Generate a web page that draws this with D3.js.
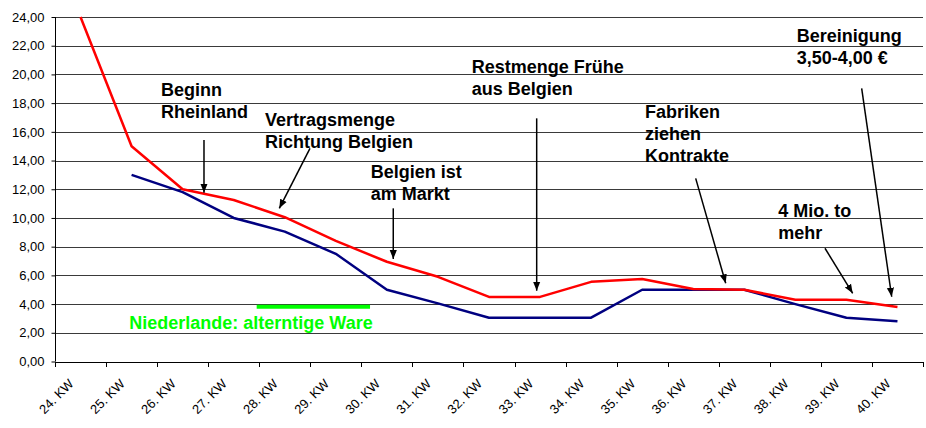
<!DOCTYPE html>
<html>
<head>
<meta charset="utf-8">
<script src="https://cdn.jsdelivr.net/npm/d3@7"></script>
<style>
  html, body { margin: 0; padding: 0; background: #fff; }
  svg { display: block; font-family: "Liberation Sans", Arial, sans-serif; }
</style>
</head>
<body>
<svg id="chart" width="926" height="428"></svg>
<script>
// ---- data ----
const categories = ["24. KW","25. KW","26. KW","27. KW","28. KW","29. KW","30. KW","31. KW","32. KW",
                    "33. KW","34. KW","35. KW","36. KW","37. KW","38. KW","39. KW","40. KW"];
const redValues  = [24.0, 15.0, 12.0, 11.25, 10.05, 8.4, 6.95, 5.9, 4.5, 4.5, 5.55, 5.75, 5.05, 5.0, 4.3, 4.3, 3.8];
const blueValues = [null, 13.0, 11.8, 10.0, 9.05, 7.5, 5.0, 4.05, 3.05, 3.05, 3.05, 5.0, 5.0, 5.0, 4.0, 3.05, 2.8];
const yTicks = [0, 2, 4, 6, 8, 10, 12, 14, 16, 18, 20, 22, 24];
// green reference segment: [from category index, to category index, value]
const greenSegment = [3.45, 5.67, 3.82];
const greenLabel = "Niederlande: alterntige Ware";
// annotations: text lines, anchor (category index, value), arrow from -> to (category index, value)
const annotationTexts = [
  ["Beginn", "Rheinland"],
  ["Vertragsmenge", "Richtung Belgien"],
  ["Belgien ist", "am Markt"],
  ["Restmenge Frühe", "aus Belgien"],
  ["Fabriken", "ziehen", "Kontrakte"],
  ["Bereinigung", "3,50-4,00 €"],
  ["4 Mio. to", "mehr"]
];
const annotationAnchors = [[1.576, 18.53],[3.613, 16.40],[5.683, 12.78],[7.661, 20.12],[11.055, 16.94],[14.026, 22.28],[13.666, 10.09]];
const arrowSegments = [
  [[2.418, 15.43],[2.418, 11.76]],
  [[4.494, 14.85],[3.893, 10.67]],
  [[6.125, 10.67],[6.125, 7.14]],
  [[8.934, 16.94],[8.934, 4.93]],
  [[12.048, 12.76],[12.636, 5.45]],
  [[15.299, 19.03],[15.887, 4.51]],
  [[14.580, 7.89],[15.123, 4.75]]
];
const greenLabelAnchor = [0.955, 2.26];

// ---- layout ----
const svg = d3.select("#chart");
const mLeft = 55, mRight = 923, mTop = 17, mBottom = 361.5;

const x = d3.scaleBand().domain(categories).range([mLeft, mRight]).paddingInner(0).paddingOuter(0);
const bw = x.bandwidth();
const cx = c => x(c) + bw / 2;
const xi = d3.scaleLinear().domain([0, categories.length - 1]).range([cx(categories[0]), cx(categories[categories.length - 1])]);
const y = d3.scaleLinear().domain([0, 24]).range([mBottom, mTop]);

const fmt = d3.formatLocale({decimal: ",", thousands: ".", grouping: [3], currency: ["", "€"]}).format(".2f");

// gridlines
svg.append("g").selectAll("line").data(yTicks.filter(t => t > 0)).join("line")
  .attr("x1", mLeft).attr("x2", mRight)
  .attr("y1", d => Math.round(y(d)) + 0.5).attr("y2", d => Math.round(y(d)) + 0.5)
  .attr("stroke", "#3a3a3a").attr("stroke-width", 1);

// y axis
const yAxis = svg.append("g").attr("transform", `translate(${mLeft + 0.5},0)`)
  .call(d3.axisLeft(y).tickValues(yTicks).tickFormat(fmt).tickSize(4).tickPadding(7));
yAxis.select(".domain").attr("stroke", "#000").attr("d", `M0,${mTop}V${mBottom}`);
yAxis.selectAll(".tick line").attr("stroke", "#000");
yAxis.selectAll(".tick text").attr("font-size", 13).attr("fill", "#000")
  .attr("font-family", '"Liberation Sans", Arial, sans-serif');

// x axis (ticks at category boundaries)
const xAxisG = svg.append("g");
xAxisG.append("line").attr("x1", mLeft).attr("x2", mRight + 1)
  .attr("y1", Math.round(mBottom) + 0.5).attr("y2", Math.round(mBottom) + 0.5).attr("stroke", "#000");
const boundaries = categories.map(c => x(c)).concat([x(categories[categories.length - 1]) + bw]);
xAxisG.selectAll("line.tk").data(boundaries).join("line").attr("class", "tk")
  .attr("x1", d => Math.round(d) + 0.5).attr("x2", d => Math.round(d) + 0.5)
  .attr("y1", Math.round(mBottom)).attr("y2", Math.round(mBottom) + 5).attr("stroke", "#000");
xAxisG.selectAll("text").data(categories).join("text")
  .attr("transform", d => `translate(${cx(d) - 6},${mBottom + 23}) rotate(-45)`)
  .attr("text-anchor", "end").attr("font-size", 13).attr("fill", "#000")
  .text(d => d);

// series lines
const lineGen = d3.line().defined(d => d.v != null).x(d => cx(d.c)).y(d => y(d.v));
svg.append("path")
  .datum(categories.map((c, i) => ({c, v: blueValues[i]})))
  .attr("d", lineGen).attr("fill", "none").attr("stroke", "#000080").attr("stroke-width", 2.5)
  .attr("stroke-linejoin", "round");
svg.append("path")
  .datum(categories.map((c, i) => ({c, v: redValues[i]})))
  .attr("d", lineGen).attr("fill", "none").attr("stroke", "#ff0000").attr("stroke-width", 2.5)
  .attr("stroke-linejoin", "round");

// green segment
svg.append("line")
  .attr("x1", xi(greenSegment[0])).attr("x2", xi(greenSegment[1]))
  .attr("y1", y(greenSegment[2])).attr("y2", y(greenSegment[2]))
  .attr("stroke", "#00ff00").attr("stroke-width", 4);
svg.append("text")
  .attr("x", xi(greenLabelAnchor[0])).attr("y", y(greenLabelAnchor[1]))
  .attr("font-size", 18).attr("font-weight", "bold").attr("fill", "#00ff00")
  .text(greenLabel);

// arrow marker
svg.append("defs").append("marker")
  .attr("id", "arrow").attr("viewBox", "0 0 10 10").attr("refX", 10).attr("refY", 5)
  .attr("markerWidth", 6).attr("markerHeight", 6).attr("markerUnits", "strokeWidth")
  .attr("orient", "auto")
  .append("path").attr("d", "M0,1 L10,5 L0,9 z").attr("fill", "#000");

svg.append("g").selectAll("line").data(arrowSegments).join("line")
  .attr("x1", d => xi(d[0][0])).attr("y1", d => y(d[0][1]))
  .attr("x2", d => xi(d[1][0])).attr("y2", d => y(d[1][1]))
  .attr("stroke", "#000").attr("stroke-width", 1.5).attr("marker-end", "url(#arrow)");

// annotation texts
const ann = svg.append("g").selectAll("text").data(annotationTexts).join("text")
  .attr("x", (d, i) => xi(annotationAnchors[i][0]))
  .attr("y", (d, i) => y(annotationAnchors[i][1]))
  .attr("font-size", 18).attr("font-weight", "bold").attr("fill", "#000");
ann.each(function(lines, i) {
  const t = d3.select(this);
  const x0 = xi(annotationAnchors[i][0]);
  lines.forEach((ln, j) => {
    t.append("tspan").attr("x", x0).attr("dy", j === 0 ? 0 : 22).text(ln);
  });
});
</script>
</body>
</html>
